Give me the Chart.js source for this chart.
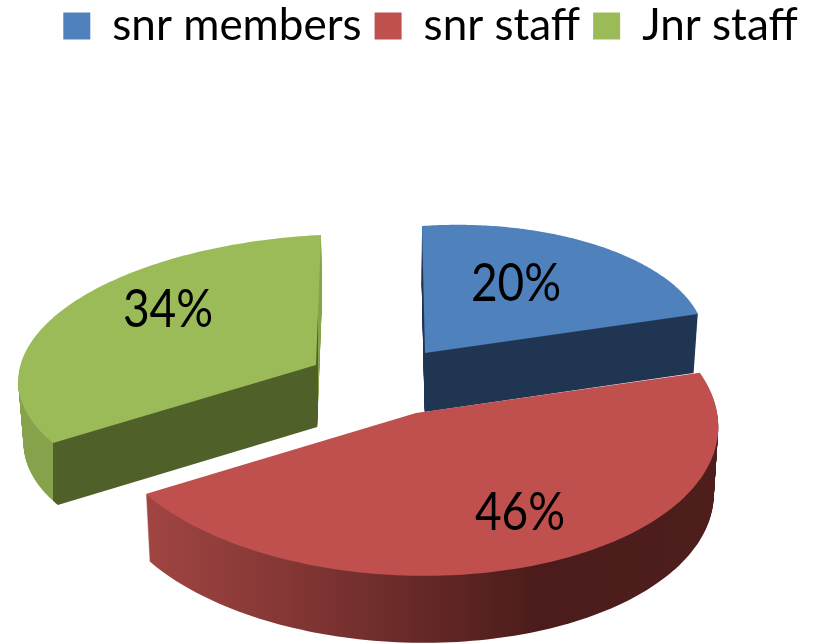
<!DOCTYPE html>
<html>
<head>
<meta charset="utf-8">
<style>html,body{margin:0;padding:0;background:#fff}canvas{display:block}</style>
<script src="https://cdn.jsdelivr.net/npm/chart.js@4/dist/chart.umd.min.js"></script>
</head>
<body>
<canvas id="myChart" width="813" height="643"></canvas>
<script>
const categories = ["snr members", "snr staff", "Jnr staff"];
const shares = [20, 46, 34];
const sliceColors = ["#4f81bd", "#c0504d", "#9bbb59"];

// where each slice sits in the tilted view: apex and rim points as [fraction along the arc, x, y, weight]
const views = [
  { apex: [425, 353], rim: [[0, 422, 226, 5], [0.5, 593, 244, 1], [1, 698, 314, 5]], depth: 59, label: [516, 284],
    side: [[0, "#1f3552"], [1, "#1f3552"]] },
  { apex: [416, 413], rim: [[0, 697, 372, 8], [0.12, 726, 437, 3], [0.652, 416, 571, 5], [1, 146, 499, 8]], depth: 67, label: [520, 513],
    side: [[0.18, "#a04542"], [0.4, "#7c3331"], [0.66, "#4b1c1b"], [1, "#4f1f1d"]] },
  { apex: [316, 365], rim: [[0, 53, 443, 5], [0.265, 19, 372, 1], [1, 321, 235, 5]], depth: 62, label: [168, 310],
    side: [[0.0649, "#86a24a"], [0.0652, "#4f6128"], [0.3906, "#4f6128"], [0.3909, "#86a24a"], [1, "#86a24a"]] }
];
const wallLean = 0.014; // side walls lean in towards the middle of the picture
const leanX = 400;

function solve(m) {
  const n = m.length;
  for (let i = 0; i < n; i++) {
    let p = i;
    for (let r = i + 1; r < n; r++) if (Math.abs(m[r][i]) > Math.abs(m[p][i])) p = r;
    [m[i], m[p]] = [m[p], m[i]];
    for (let r = 0; r < n; r++) {
      if (r === i) continue;
      const f = m[r][i] / m[i][i];
      for (let c = i; c <= n; c++) m[r][c] -= f * m[i][c];
    }
  }
  return m.map((row, i) => row[n] / row[i]);
}

// perspective map of the unit circle, fitted to the apex and rim points
function makeMap(arc, view) {
  const a0 = arc.startAngle, a1 = arc.endAngle;
  const normal = Array.from({ length: 6 }, () => new Array(7).fill(0));
  const addRow = (row, w) => {
    for (let i = 0; i < 6; i++) for (let j = 0; j < 7; j++) normal[i][j] += w * row[i] * row[j];
  };
  view.rim.forEach(([t, x, y, w]) => {
    const ang = a0 + (a1 - a0) * t;
    const u = Math.cos(ang), v = Math.sin(ang);
    const px = x - view.apex[0], py = y - view.apex[1];
    addRow([u, v, 0, 0, -px * u, -px * v, px], w);
    addRow([0, 0, u, v, -py * u, -py * v, py], w);
  });
  const [xu, xv, yu, yv, g, h] = solve(normal);
  return (ang, r, dy) => {
    const u = r * Math.cos(ang), v = r * Math.sin(ang);
    const w = 1 + g * u + h * v;
    const x = view.apex[0] + (xu * u + xv * v) / w;
    const y = view.apex[1] + (yu * u + yv * v) / w;
    return [x + (leanX - x) * wallLean * dy / view.depth, y + dy];
  };
}

function slicePath(ctx, arc, map, dy) {
  ctx.beginPath();
  const a = map(0, 0, dy);
  ctx.moveTo(a[0], a[1]);
  const steps = 120;
  for (let i = 0; i <= steps; i++) {
    const p = map(arc.startAngle + (arc.endAngle - arc.startAngle) * i / steps, 1, dy);
    ctx.lineTo(p[0], p[1]);
  }
  ctx.closePath();
}

const tiltedPie = {
  id: "tiltedPie",
  beforeDatasetsDraw(chart) {
    const ctx = chart.ctx;
    const arcs = chart.getDatasetMeta(0).data;
    [2, 0, 1].forEach(i => {
      const view = views[i];
      const map = makeMap(arcs[i], view);
      const grad = ctx.createLinearGradient(0, 0, 813, 0);
      view.side.forEach(s => grad.addColorStop(s[0], s[1]));
      ctx.fillStyle = grad;
      for (let d = view.depth; d > 0; d--) {
        slicePath(ctx, arcs[i], map, d);
        ctx.fill();
      }
      slicePath(ctx, arcs[i], map, 0);
      ctx.fillStyle = sliceColors[i];
      ctx.fill();
    });
    ctx.fillStyle = "#000";
    ctx.font = '46px Lato';
    ctx.textAlign = "center";
    ctx.textBaseline = "middle";
    shares.forEach((s, i) => {
      ctx.save();
      ctx.translate(views[i].label[0], views[i].label[1]);
      ctx.scale(1, 1.12);
      ctx.fillText(s + "%", 0, 0);
      ctx.restore();
    });
    return false;
  }
};

new Chart(document.getElementById("myChart"), {
  type: "pie",
  data: {
    labels: categories,
    datasets: [{ data: shares, backgroundColor: sliceColors, borderWidth: 0 }]
  },
  options: {
    responsive: false,
    animation: false,
    layout: { padding: { left: 48, top: -9 } },
    plugins: {
      tooltip: { enabled: false },
      legend: {
        position: "top",
        labels: {
          boxWidth: 27,
          boxHeight: 27,
          padding: 13,
          color: "#000",
          font: { family: 'Lato', size: 44 }
        }
      }
    }
  },
  plugins: [tiltedPie]
});
</script>
</body>
</html>
